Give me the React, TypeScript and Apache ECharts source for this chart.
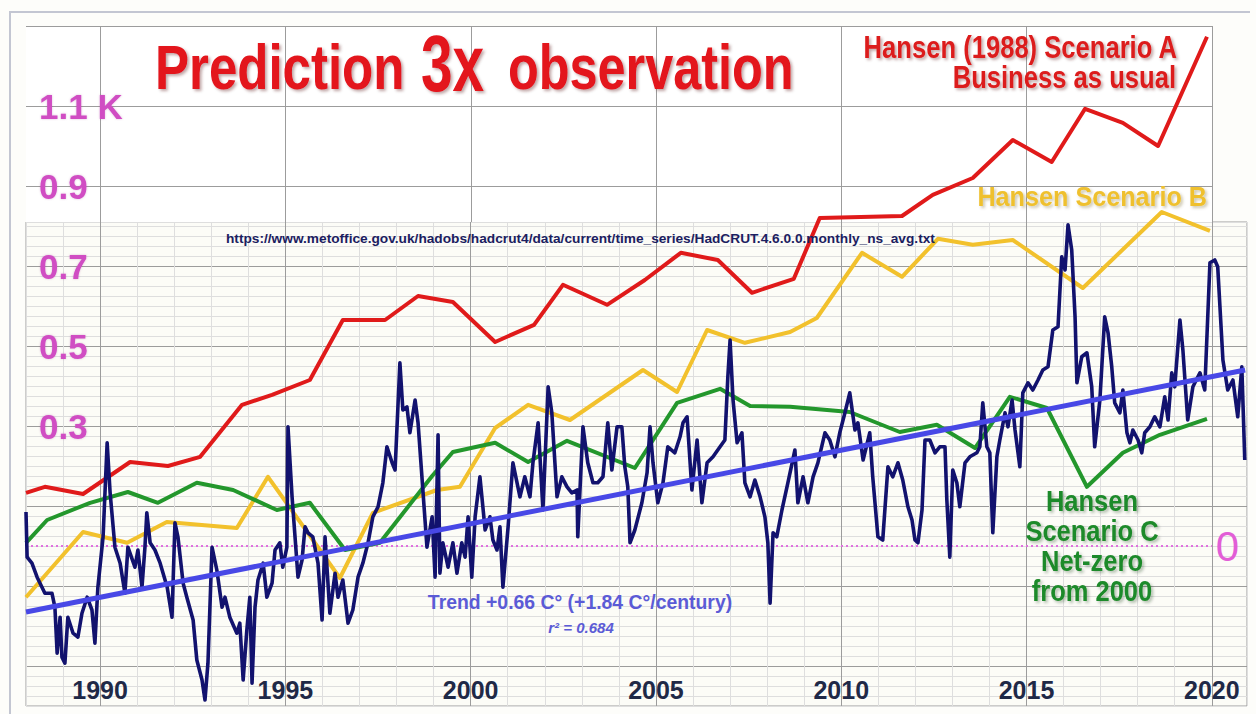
import React, { useEffect, useRef } from 'react';
import * as echarts from 'echarts';

// ---------- data ----------
const yearTicks = [1990, 1995, 2000, 2005, 2010, 2015, 2020];
const tempLabelTicks = [0.3, 0.5, 0.7, 0.9, 1.1];
const lowerMajorY = [-0.3, -0.1, 0.1, 0.3, 0.5, 0.7];
const upperMajorY = [0.9, 1.1, 1.3];
const zeroTick = [0];

const scenarioA: [number, number][] = [
  [1988.0, 0.133], [1988.51, 0.148], [1989.54, 0.13], [1990.81, 0.21], [1991.83, 0.2], [1992.7, 0.223],
  [1993.83, 0.353], [1994.64, 0.378], [1995.66, 0.415], [1996.55, 0.565], [1997.69, 0.565], [1998.58, 0.625],
  [1999.52, 0.61], [2000.66, 0.51], [2001.71, 0.553], [2002.49, 0.653], [2003.68, 0.603], [2004.7, 0.665],
  [2005.67, 0.733], [2006.67, 0.715], [2007.59, 0.633], [2008.72, 0.668], [2009.42, 0.82], [2011.64, 0.825],
  [2012.47, 0.878], [2013.55, 0.92], [2014.63, 1.015], [2015.68, 0.96], [2016.58, 1.093], [2017.6, 1.058],
  [2018.55, 1.0], [2019.87, 1.273],
];

const scenarioB: [number, number][] = [
  [1988.0, -0.128], [1989.54, 0.035], [1990.73, 0.008], [1991.8, 0.06], [1993.69, 0.045], [1994.53, 0.173],
  [1996.47, -0.08], [1997.36, 0.083], [1999.09, 0.14], [1999.71, 0.148], [2000.66, 0.295], [2001.55, 0.353],
  [2002.68, 0.315], [2004.65, 0.44], [2005.57, 0.385], [2006.38, 0.54], [2007.4, 0.508], [2008.62, 0.535],
  [2009.34, 0.57], [2010.56, 0.733], [2011.64, 0.673], [2012.61, 0.768], [2013.55, 0.753], [2014.63, 0.765],
  [2016.52, 0.645], [2018.65, 0.835], [2019.95, 0.788],
];

const scenarioC: [number, number][] = [
  [1988.0, 0.008], [1988.57, 0.065], [1989.73, 0.108], [1990.75, 0.135], [1991.56, 0.108], [1992.61, 0.158],
  [1993.59, 0.14], [1994.77, 0.09], [1995.66, 0.108], [1996.61, -0.01], [1997.55, 0.008], [1998.96, 0.175],
  [1999.52, 0.235], [2000.66, 0.258], [2001.55, 0.21], [2002.6, 0.263], [2004.43, 0.195], [2005.57, 0.358],
  [2006.73, 0.393], [2007.54, 0.35], [2008.62, 0.348], [2010.23, 0.335], [2011.58, 0.285], [2012.58, 0.303],
  [2013.61, 0.245], [2014.55, 0.373], [2015.55, 0.345], [2016.63, 0.148], [2017.6, 0.233], [2018.6, 0.278],
  [2019.87, 0.318],
];

const trendLine: [number, number][] = [[1988.0, -0.165], [2020.9, 0.44]];
const zeroLine: [number, number][] = [[1988.0, 0], [2020.0, 0]];

const observed: [number, number][] = [
  [1988.0, 0.085], [1988.03, -0.028], [1988.16, -0.043], [1988.3, -0.078], [1988.51, -0.118], [1988.7, -0.118],
  [1988.78, -0.153], [1988.84, -0.268], [1988.92, -0.178], [1988.97, -0.278], [1989.05, -0.293], [1989.13, -0.178],
  [1989.27, -0.218], [1989.4, -0.228], [1989.51, -0.168], [1989.65, -0.128], [1989.78, -0.16], [1989.86, -0.243],
  [1989.94, -0.103], [1990.08, 0.023], [1990.19, 0.258], [1990.27, 0.133], [1990.4, -0.003], [1990.54, -0.043],
  [1990.67, -0.118], [1990.75, -0.003], [1990.94, -0.053], [1991.02, -0.01], [1991.13, -0.103], [1991.21, -0.003],
  [1991.26, 0.083], [1991.35, 0.008], [1991.48, -0.01], [1991.62, -0.043], [1991.81, -0.103], [1991.94, -0.178],
  [1992.02, 0.058], [1992.1, 0.023], [1992.24, -0.093], [1992.34, -0.128], [1992.51, -0.185], [1992.61, -0.285],
  [1992.75, -0.335], [1992.83, -0.385], [1992.91, -0.293], [1993.02, -0.003], [1993.15, -0.06], [1993.29, -0.153],
  [1993.37, -0.128], [1993.5, -0.178], [1993.69, -0.218], [1993.77, -0.193], [1993.86, -0.335], [1993.96, -0.21],
  [1994.04, -0.128], [1994.1, -0.343], [1994.18, -0.153], [1994.26, -0.085], [1994.4, -0.043], [1994.5, -0.128],
  [1994.64, -0.093], [1994.72, -0.01], [1994.85, 0.008], [1994.93, -0.053], [1995.04, -0.003], [1995.07, 0.298],
  [1995.18, 0.123], [1995.26, 0.023], [1995.34, -0.078], [1995.45, -0.035], [1995.53, 0.048], [1995.61, 0.033],
  [1995.74, 0.023], [1995.88, -0.043], [1995.99, -0.185], [1996.07, 0.023], [1996.2, -0.168], [1996.34, -0.068],
  [1996.42, -0.128], [1996.55, -0.085], [1996.69, -0.193], [1996.82, -0.16], [1996.96, -0.078], [1997.09, -0.043],
  [1997.23, 0.008], [1997.36, 0.073], [1997.5, 0.098], [1997.63, 0.158], [1997.74, 0.248], [1997.88, 0.208],
  [1997.96, 0.19], [1998.09, 0.458], [1998.17, 0.34], [1998.28, 0.348], [1998.36, 0.283], [1998.5, 0.365],
  [1998.58, 0.308], [1998.71, 0.14], [1998.82, -0.003], [1998.96, 0.073], [1999.04, -0.078], [1999.12, 0.278],
  [1999.17, -0.068], [1999.25, 0.008], [1999.39, -0.053], [1999.52, 0.008], [1999.63, -0.068], [1999.76, 0.008],
  [1999.85, -0.028], [1999.93, 0.073], [2000.03, -0.078], [2000.12, 0.073], [2000.25, 0.173], [2000.39, 0.04],
  [2000.52, 0.073], [2000.6, 0.015], [2000.71, -0.01], [2000.79, 0.048], [2000.87, -0.103], [2001.01, 0.048],
  [2001.14, 0.208], [2001.33, 0.123], [2001.46, 0.173], [2001.6, 0.123], [2001.68, 0.208], [2001.82, 0.308],
  [2001.95, 0.09], [2002.09, 0.398], [2002.19, 0.333], [2002.33, 0.123], [2002.46, 0.173], [2002.6, 0.148],
  [2002.73, 0.133], [2002.87, 0.14], [2002.89, 0.023], [2003.03, 0.298], [2003.16, 0.208], [2003.3, 0.158],
  [2003.43, 0.158], [2003.57, 0.173], [2003.7, 0.308], [2003.81, 0.19], [2003.95, 0.298], [2004.08, 0.298],
  [2004.16, 0.198], [2004.24, 0.148], [2004.3, 0.008], [2004.43, 0.04], [2004.62, 0.108], [2004.76, 0.183],
  [2004.84, 0.298], [2004.92, 0.208], [2005.05, 0.108], [2005.19, 0.158], [2005.32, 0.248], [2005.51, 0.233],
  [2005.65, 0.273], [2005.73, 0.308], [2005.84, 0.323], [2005.97, 0.14], [2006.11, 0.265], [2006.24, 0.108],
  [2006.38, 0.208], [2006.54, 0.223], [2006.73, 0.248], [2006.86, 0.265], [2006.94, 0.423], [2007.0, 0.515],
  [2007.08, 0.365], [2007.19, 0.258], [2007.32, 0.283], [2007.4, 0.158], [2007.54, 0.123], [2007.67, 0.165],
  [2007.81, 0.123], [2007.94, 0.073], [2008.02, 0.008], [2008.08, -0.143], [2008.16, 0.033], [2008.26, 0.023],
  [2008.4, 0.09], [2008.56, 0.158], [2008.75, 0.24], [2008.83, 0.108], [2008.97, 0.173], [2009.1, 0.108],
  [2009.24, 0.173], [2009.37, 0.208], [2009.56, 0.283], [2009.69, 0.265], [2009.83, 0.223], [2009.96, 0.283],
  [2010.1, 0.333], [2010.23, 0.383], [2010.37, 0.29], [2010.45, 0.308], [2010.59, 0.215], [2010.77, 0.283],
  [2010.85, 0.173], [2010.99, 0.023], [2011.12, 0.015], [2011.26, 0.198], [2011.39, 0.173], [2011.53, 0.208],
  [2011.66, 0.165], [2011.8, 0.098], [2011.91, 0.065], [2011.99, 0.015], [2012.07, 0.008], [2012.18, 0.09],
  [2012.26, 0.265], [2012.39, 0.265], [2012.53, 0.233], [2012.66, 0.248], [2012.8, 0.248], [2012.85, 0.115],
  [2012.93, -0.028], [2013.01, 0.19], [2013.12, 0.158], [2013.2, 0.098], [2013.34, 0.208], [2013.47, 0.223],
  [2013.66, 0.233], [2013.74, 0.248], [2013.82, 0.358], [2013.93, 0.248], [2014.01, 0.233], [2014.09, 0.033],
  [2014.2, 0.223], [2014.28, 0.265], [2014.42, 0.333], [2014.5, 0.298], [2014.61, 0.365], [2014.69, 0.29],
  [2014.82, 0.198], [2014.9, 0.383], [2015.04, 0.408], [2015.17, 0.39], [2015.31, 0.415], [2015.44, 0.44],
  [2015.58, 0.448], [2015.71, 0.54], [2015.85, 0.548], [2015.95, 0.723], [2016.04, 0.69], [2016.12, 0.803],
  [2016.22, 0.74], [2016.31, 0.573], [2016.36, 0.408], [2016.49, 0.473], [2016.63, 0.483], [2016.76, 0.398],
  [2016.84, 0.248], [2016.98, 0.365], [2017.11, 0.573], [2017.2, 0.533], [2017.3, 0.448], [2017.38, 0.358],
  [2017.52, 0.333], [2017.6, 0.39], [2017.71, 0.283], [2017.79, 0.258], [2017.87, 0.29], [2018.01, 0.265],
  [2018.11, 0.233], [2018.19, 0.283], [2018.33, 0.298], [2018.46, 0.323], [2018.6, 0.298], [2018.73, 0.373],
  [2018.82, 0.315], [2018.92, 0.433], [2019.0, 0.398], [2019.14, 0.565], [2019.22, 0.49], [2019.35, 0.315],
  [2019.49, 0.398], [2019.68, 0.433], [2019.81, 0.39], [2019.95, 0.708], [2020.08, 0.715], [2020.16, 0.698],
  [2020.3, 0.465], [2020.43, 0.39], [2020.57, 0.415], [2020.7, 0.323], [2020.81, 0.448], [2020.89, 0.215],
];

// ---------- styling ----------
const SANS = '"Liberation Sans", Arial, Helvetica, sans-serif';
const MAJOR = '#9c9c9c';
const MINOR = '#dedede';
const X_MIN = 1988;
const X_MAX = 2020.95;

const hidden = { axisLine: { show: false }, axisTick: { show: false } };

function shadowText(extra: any) {
  return {
    textShadowColor: 'rgba(70,0,0,0.35)',
    textShadowBlur: 3,
    textShadowOffsetX: 2,
    textShadowOffsetY: 2,
    ...extra,
  };
}

function buildOption(): any {
  return {
    animation: false,
    backgroundColor: '#fdfdfa',
    grid: [
      { left: 26, right: 9, top: 26, bottom: 8 },
      { left: 26, right: 9, top: 222, bottom: 8, show: true, borderColor: MAJOR, borderWidth: 1, backgroundColor: '#fcfcf7' },
      { left: 26, right: 44, top: 26, bottom: 492, show: true, borderWidth: 0, backgroundColor: '#ffffff' },
    ],
    xAxis: [
      {
        gridIndex: 0, type: 'value', min: X_MIN, max: X_MAX, ...hidden,
        splitLine: { show: false },
        axisLabel: {
          customValues: yearTicks, inside: true, margin: 4,
          fontSize: 25, fontWeight: 'bold', color: '#1f2947', fontFamily: SANS,
          formatter: (v: number) => String(v),
        },
      },
      {
        gridIndex: 1, type: 'value', min: X_MIN, max: X_MAX, interval: 1, ...hidden,
        axisLabel: { show: false },
        splitLine: { show: true, lineStyle: { color: MINOR, width: 1 } },
      },
      {
        gridIndex: 1, type: 'value', min: X_MIN, max: X_MAX, axisLine: { show: false },
        axisTick: { show: false, customValues: yearTicks },
        axisLabel: { show: false },
        splitLine: { show: true, lineStyle: { color: MAJOR, width: 1 } },
      },
      {
        gridIndex: 2, type: 'value', min: X_MIN, max: 2020, axisLine: { show: false },
        axisTick: { show: false, customValues: yearTicks },
        axisLabel: { show: false },
        splitLine: { show: true, lineStyle: { color: MAJOR, width: 1 } },
      },
    ],
    yAxis: [
      {
        gridIndex: 0, type: 'value', min: -0.4, max: 1.3, ...hidden,
        splitLine: { show: false },
        axisLabel: {
          customValues: tempLabelTicks, inside: true, margin: 13,
          fontSize: 35, fontWeight: 'bold', color: '#d04dc3', fontFamily: SANS,
          textShadowColor: 'rgba(120,0,110,0.25)', textShadowBlur: 2,
          formatter: (v: number) => (Math.abs(v - 1.1) < 1e-6 ? '1.1 K' : v.toFixed(1)),
        },
      },
      {
        gridIndex: 0, type: 'value', position: 'right', min: -0.4, max: 1.3, ...hidden,
        splitLine: { show: false },
        axisLabel: {
          customValues: zeroTick, inside: true, margin: 8,
          fontSize: 42, color: '#e25ed6', fontFamily: SANS,
          formatter: () => '0',
        },
      },
      {
        gridIndex: 1, type: 'value', min: -0.4, max: 0.81, interval: 0.025, ...hidden,
        axisLabel: { show: false },
        splitLine: { show: true, lineStyle: { color: MINOR, width: 1 } },
      },
      {
        gridIndex: 1, type: 'value', min: -0.4, max: 0.81, axisLine: { show: false },
        axisTick: { show: false, customValues: lowerMajorY },
        axisLabel: { show: false },
        splitLine: { show: true, lineStyle: { color: MAJOR, width: 1 } },
      },
      {
        gridIndex: 2, type: 'value', min: 0.81, max: 1.3, axisLine: { show: false },
        axisTick: { show: false, customValues: upperMajorY },
        axisLabel: { show: false },
        splitLine: { show: true, lineStyle: { color: MAJOR, width: 1 } },
      },
    ],
    series: [
      {
        name: 'zero', type: 'line', xAxisIndex: 0, yAxisIndex: 0, data: zeroLine, symbol: 'none', silent: true,
        lineStyle: { color: '#e070df', width: 2.2, type: [2, 3] }, z: 3,
      },
      {
        name: 'Scenario A', type: 'line', xAxisIndex: 0, yAxisIndex: 0, data: scenarioA, symbol: 'none',
        lineStyle: { color: '#e01a1a', width: 4, join: 'round' }, z: 4,
      },
      {
        name: 'Scenario B', type: 'line', xAxisIndex: 0, yAxisIndex: 0, data: scenarioB, symbol: 'none',
        lineStyle: { color: '#f2c12c', width: 4, join: 'round' }, z: 4,
      },
      {
        name: 'Scenario C', type: 'line', xAxisIndex: 0, yAxisIndex: 0, data: scenarioC, symbol: 'none',
        lineStyle: { color: '#23972c', width: 4, join: 'round' }, z: 4,
      },
      {
        name: 'HadCRUT4', type: 'line', xAxisIndex: 0, yAxisIndex: 0, data: observed, symbol: 'none',
        lineStyle: { color: '#12126e', width: 3.6, join: 'round' }, z: 5,
      },
      {
        name: 'Trend', type: 'line', xAxisIndex: 0, yAxisIndex: 0, data: trendLine, symbol: 'none',
        lineStyle: { color: '#4848e6', width: 5 }, z: 6,
      },
    ],
    graphic: [
      {
        type: 'polyline', silent: true, z: 0,
        shape: { points: [[10, 714], [10, 12], [1250, 12]] },
        style: { stroke: '#c3c6d2', lineWidth: 2, fill: null },
      },
      {
        type: 'text', x: 155, y: 67, scaleX: 0.81, z: 20,
        style: shadowText({ text: 'Prediction', fontSize: 63, fontWeight: 'bold', fontFamily: SANS, fill: '#e3121b', align: 'left', verticalAlign: 'middle' }),
      },
      {
        type: 'text', x: 421, y: 63, scaleX: 0.71, z: 20,
        style: shadowText({ text: '3x', fontSize: 80, fontWeight: 'bold', fontFamily: SANS, fill: '#e3121b', align: 'left', verticalAlign: 'middle' }),
      },
      {
        type: 'text', x: 508, y: 67, scaleX: 0.8, z: 20,
        style: shadowText({ text: 'observation', fontSize: 63, fontWeight: 'bold', fontFamily: SANS, fill: '#e3121b', align: 'left', verticalAlign: 'middle' }),
      },
      {
        type: 'text', x: 1177, y: 47, scaleX: 0.8, z: 20,
        style: shadowText({ text: 'Hansen (1988) Scenario A', fontSize: 32, fontWeight: 'bold', fontFamily: SANS, fill: '#dc1c1c', align: 'right', verticalAlign: 'middle' }),
      },
      {
        type: 'text', x: 1176, y: 77, scaleX: 0.8, z: 20,
        style: shadowText({ text: 'Business as usual', fontSize: 32, fontWeight: 'bold', fontFamily: SANS, fill: '#dc1c1c', align: 'right', verticalAlign: 'middle' }),
      },
      {
        type: 'text', x: 1207, y: 197, scaleX: 0.9, z: 20,
        style: shadowText({ text: 'Hansen Scenario B', fontSize: 28, fontWeight: 'bold', fontFamily: SANS, fill: '#efc02e', align: 'right', verticalAlign: 'middle', textShadowColor: 'rgba(90,70,0,0.3)' }),
      },
      ...['Hansen', 'Scenario C', 'Net-zero', 'from 2000'].map((t, i) => ({
        type: 'text', x: 1092, y: 501 + i * 30, scaleX: 0.85, z: 20,
        style: shadowText({ text: t, fontSize: 30, fontWeight: 'bold', fontFamily: SANS, fill: '#1f8a2a', align: 'center', verticalAlign: 'middle', textShadowColor: 'rgba(0,50,0,0.3)' }),
      })),
      {
        type: 'text', x: 226, y: 238, z: 20,
        style: {
          text: 'https://www.metoffice.gov.uk/hadobs/hadcrut4/data/current/time_series/HadCRUT.4.6.0.0.monthly_ns_avg.txt',
          fontSize: 13.7, fontWeight: 'bold', fontFamily: SANS, fill: '#1b2060', align: 'left', verticalAlign: 'middle',
        },
      },
      {
        type: 'text', x: 580, y: 602, scaleX: 0.97, z: 20,
        style: { text: 'Trend +0.66 C° (+1.84 C°/century)', fontSize: 20, fontWeight: 'bold', fontFamily: SANS, fill: '#5b5bd6', align: 'center', verticalAlign: 'middle' },
      },
      {
        type: 'text', x: 581, y: 627, z: 20,
        style: { text: 'r² = 0.684', fontSize: 15, fontWeight: 'bold', fontStyle: 'italic', fontFamily: SANS, fill: '#5b5bd6', align: 'center', verticalAlign: 'middle' },
      },
    ],
  };
}

export default function App() {
  const ref = useRef<HTMLDivElement>(null);
  useEffect(() => {
    if (!ref.current) return;
    const chart = echarts.init(ref.current, null, { renderer: 'svg' });
    chart.setOption(buildOption());
    return () => chart.dispose();
  }, []);
  return <div ref={ref} style={{ position: 'fixed', left: 0, top: 0, width: 1256, height: 714 }} />;
}
